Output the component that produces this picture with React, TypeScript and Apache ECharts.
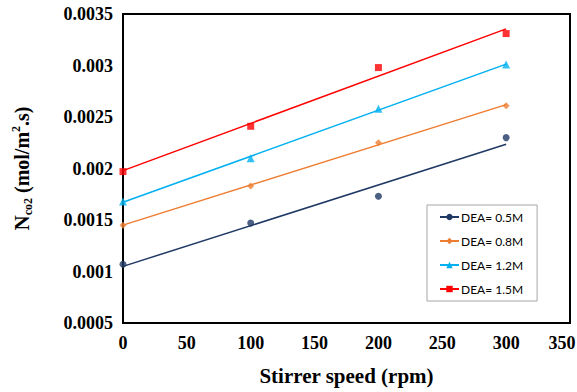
import React, { useEffect, useRef } from 'react';
import * as echarts from 'echarts';

// ---- data ----
const speeds = [0, 100, 200, 300];
const seriesNames = ['DEA= 0.5M', 'DEA= 0.8M', 'DEA= 1.2M', 'DEA= 1.5M'];
const dea05 = [0.00107, 0.00147, 0.00173, 0.0023];
const dea08 = [0.00145, 0.00183, 0.00225, 0.00261];
const dea12 = [0.00168, 0.0021, 0.00258, 0.00301];
const dea15 = [0.00197, 0.00241, 0.00298, 0.00331];
const xAxisRange = [0, 350, 50]; // min, max, interval
const yAxisRange = [0.0005, 0.0035, 0.0005];

// ---- styles ----
const colors = ['#1F3864', '#ED7D31', '#00B0F0', '#FF0000'];
const symbols = ['circle', 'diamond', 'triangle', 'rect'];
const symbolSizes = [7, 7, 8, 7];
const SERIF = '"Liberation Serif", "Times New Roman", serif';

function linearFitEnds(xs: number[], ys: number[]): number[][] {
  const n = xs.length;
  const mx = xs.reduce((a, b) => a + b, 0) / n;
  const my = ys.reduce((a, b) => a + b, 0) / n;
  let sxy = 0;
  let sxx = 0;
  for (let i = 0; i < n; i++) {
    sxy += (xs[i] - mx) * (ys[i] - my);
    sxx += (xs[i] - mx) * (xs[i] - mx);
  }
  const slope = sxy / sxx;
  const icpt = my - slope * mx;
  const x0 = Math.min(...xs);
  const x1 = Math.max(...xs);
  return [
    [x0, icpt + slope * x0],
    [x1, icpt + slope * x1],
  ];
}

export default function App() {
  const ref = useRef<HTMLDivElement>(null);
  useEffect(() => {
    if (!ref.current) return;
    const chart = echarts.init(ref.current, null, { renderer: 'svg' });
    const all = [dea05, dea08, dea12, dea15];
    const series: any[] = [];
    all.forEach((ys, i) => {
      series.push({
        name: seriesNames[i],
        type: 'line',
        data: linearFitEnds(speeds, ys),
        symbol: symbols[i],
        showSymbol: false,
        lineStyle: { color: colors[i], width: 1.5 },
        itemStyle: { color: colors[i] },
        z: 2,
      });
    });
    all.forEach((ys, i) => {
      series.push({
        name: seriesNames[i],
        type: 'scatter',
        data: speeds.map((x, j) => [x, ys[j]]),
        symbol: symbols[i],
        symbolSize: symbolSizes[i],
        itemStyle: { color: colors[i] },
        z: 3,
      });
    });
    const labelBase = { fontFamily: SERIF, fontWeight: 'bold', fontSize: 18, color: '#000' };
    chart.setOption({
      animation: false,
      grid: {
        left: 123,
        right: 7,
        top: 14,
        bottom: 69,
        outerBoundsMode: 'none',
        containLabel: false,
        show: true,
        borderColor: '#000',
        borderWidth: 2,
        backgroundColor: 'transparent',
      },
      legend: {
        data: seriesNames,
        orient: 'vertical',
        left: 427,
        top: 205,
        itemWidth: 19,
        itemHeight: 8,
        itemGap: 10,
        padding: [5, 14, 5, 12],
        borderColor: '#a6a6a6',
        borderWidth: 1,
        backgroundColor: '#fff',
        textStyle: {
          fontFamily: 'Lato, "Liberation Sans", sans-serif',
          fontSize: 12,
          color: '#000',
          lineHeight: 14,
          padding: [0, 0, 0, -3],
        },
      },
      xAxis: {
        type: 'value',
        min: xAxisRange[0],
        max: xAxisRange[1],
        interval: xAxisRange[2],
        name: 'Stirrer speed (rpm)',
        nameLocation: 'middle',
        nameGap: 42,
        nameTextStyle: { fontFamily: SERIF, fontWeight: 'bold', fontSize: 21, color: '#000' },
        axisLine: { show: true, lineStyle: { color: '#000', width: 2 } },
        axisTick: { show: false },
        splitLine: { show: false },
        axisLabel: {
          ...labelBase,
          margin: 11,
          formatter: (v: number) => (v === xAxisRange[1] ? `{last|${v}}` : String(v)),
          rich: { last: { ...labelBase, padding: [0, 16, 0, 0] } },
        },
      },
      yAxis: {
        type: 'value',
        min: yAxisRange[0],
        max: yAxisRange[1],
        interval: yAxisRange[2],
        name: '{n|N}{sub|co2}{t| (mol/m}{sup|2}{t|.s)}',
        nameLocation: 'middle',
        nameRotate: 90,
        nameGap: 89,
        nameTextStyle: {
          fontFamily: SERIF,
          fontWeight: 'bold',
          fontSize: 20,
          color: '#000',
          rich: {
            n: { fontFamily: SERIF, fontWeight: 'bold', fontSize: 21, lineHeight: 24, color: '#000' },
            t: { fontFamily: SERIF, fontWeight: 'bold', fontSize: 20, lineHeight: 24, color: '#000' },
            sub: { fontFamily: SERIF, fontWeight: 'bold', fontSize: 12, lineHeight: 13, verticalAlign: 'bottom', color: '#000' },
            sup: { fontFamily: SERIF, fontWeight: 'bold', fontSize: 12, lineHeight: 13, verticalAlign: 'top', color: '#000' },
          },
        },
        axisLine: { show: true, lineStyle: { color: '#000', width: 2 } },
        axisTick: { show: false },
        splitLine: { show: false },
        axisLabel: {
          ...labelBase,
          margin: 10,
          formatter: (v: number) => String(parseFloat(v.toFixed(6))),
        },
      },
      series,
    });
    return () => chart.dispose();
  }, []);
  return <div ref={ref} style={{ width: 577, height: 392, position: 'absolute', left: 0, top: 0 }} />;
}
